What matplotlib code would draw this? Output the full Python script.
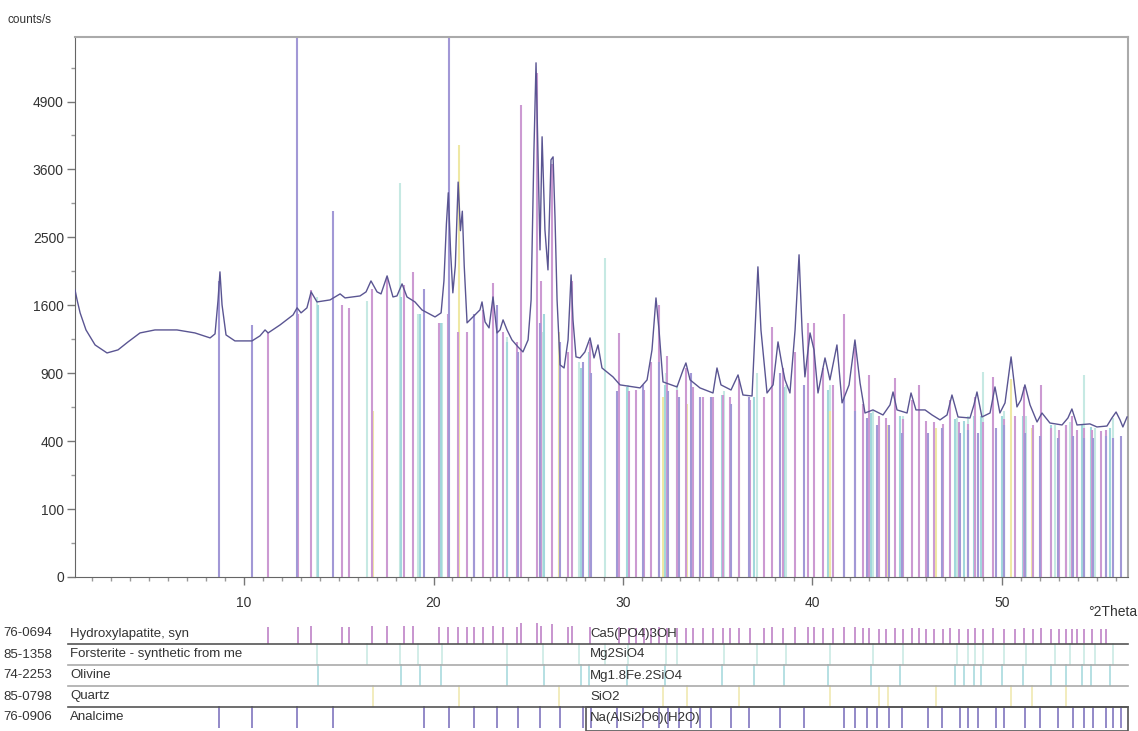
import numpy as np
import matplotlib
matplotlib.use("Agg")
import matplotlib.pyplot as plt
from matplotlib.patches import Rectangle
from matplotlib.ticker import FixedLocator, MultipleLocator, FuncFormatter

plt.rcParams['font.family'] = ['Liberation Sans', 'DejaVu Sans']

two_theta = [1.08, 1.19, 1.35, 1.66, 2.14, 2.77, 3.35, 3.88, 4.51, 5.30, 6.46, 7.41, 8.21, 8.47,
             8.63, 8.73, 8.84, 9.05, 9.52, 10.42, 10.84, 11.11, 11.27, 11.9, 12.59, 12.80, 13.01,
             13.32, 13.54, 13.85, 14.54, 15.07, 15.33, 16.12, 16.44, 16.70, 17.02, 17.23, 17.55,
             17.86, 18.07, 18.34, 18.60, 19.02, 19.39, 20.08, 20.40, 20.55, 20.68, 20.78, 20.90,
             21.02, 21.15, 21.30, 21.42, 21.52, 21.62, 21.77, 22.19, 22.45, 22.56, 22.72, 22.93,
             23.14, 23.35, 23.51, 23.67, 23.88, 24.14, 24.46, 24.72, 24.99, 25.15, 25.30, 25.41,
             25.51, 25.62, 25.73, 25.88, 26.04, 26.20, 26.31, 26.41, 26.52, 26.68, 26.89, 27.10,
             27.26, 27.36, 27.52, 27.73, 27.99, 28.26, 28.47, 28.68, 28.89, 29.47, 29.84, 30.90,
             31.27, 31.53, 31.74, 31.90, 32.11, 32.85, 33.17, 33.32, 33.54, 34.06, 34.75, 34.96,
             35.17, 35.70, 36.07, 36.33, 36.81, 36.97, 37.12, 37.28, 37.60, 37.92, 38.18, 38.39,
             38.55, 38.81, 39.08, 39.29, 39.45, 39.60, 39.87, 40.08, 40.29, 40.66, 40.92, 41.29,
             41.56, 41.93, 42.24, 42.51, 42.77, 43.19, 43.72, 44.09, 44.25, 44.46, 44.99, 45.20,
             45.46, 45.94, 46.31, 46.73, 47.10, 47.36, 47.68, 48.31, 48.52, 48.68, 48.94, 49.37,
             49.63, 49.89, 50.16, 50.48, 50.79, 51.00, 51.21, 51.48, 51.85, 52.11, 52.53, 53.17,
             53.48, 53.69, 53.96, 54.64, 55.01, 55.54, 55.80, 56.02, 56.23, 56.38, 56.60]
counts = [1787, 1664, 1512, 1323, 1167, 1088, 1118, 1198, 1291, 1323, 1323, 1291, 1239, 1281,
          1664, 2018, 1605, 1270, 1208, 1208, 1260, 1323, 1291, 1377, 1489, 1570, 1512,
          1570, 1762, 1640, 1664, 1737, 1688, 1712, 1762, 1900, 1762, 1737, 1965,
          1700, 1712, 1862, 1700, 1640, 1546, 1466, 1512, 1900, 2700, 3200, 2300,
          1750, 2100, 3380, 2600, 2900, 2100, 1400, 1489, 1546, 1640, 1410, 1345,
          1700, 1291, 1323, 1433, 1323, 1218, 1147, 1098, 1218, 1664, 3955, 5730,
          3955, 2319, 4200, 2612, 2044, 3772, 3826, 2811, 1664, 975, 947, 1218,
          1978, 1433, 1050, 1040, 1098, 1239, 1040, 1167, 947, 868, 800, 775,
          842, 1118, 1688, 1323, 825, 783, 929, 993, 842, 775, 734, 947,
          800, 758, 885, 718, 710, 1323, 2085, 1323, 734, 800, 1198, 975,
          842, 734, 1323, 2250, 1323, 868, 1291, 1118, 734, 1040, 842, 1167,
          657, 800, 1218, 816, 583, 605, 569, 642, 742, 605, 583, 734,
          605, 605, 569, 535, 569, 718, 555, 548, 642, 742, 555, 583,
          783, 583, 657, 1050, 627, 680, 800, 642, 521, 583, 514, 501,
          548, 612, 501, 508, 488, 494, 548, 590, 535, 488, 555]

# reference phases: code, name, formula, stick positions, stick intensities (counts/s)
codes = ["76-0694", "85-1358", "74-2253", "85-0798", "76-0906"]
names = ["Hydroxylapatite, syn", "Forsterite - synthetic from me", "Olivine", "Quartz", "Analcime"]
formulas = ["Ca5(PO4)3OH", "Mg2SiO4", "Mg1.8Fe.2SiO4", "SiO2", "Na(AlSi2O6)(H2O)"]

hap_pos = [11.25, 12.85, 13.54, 15.16, 15.54, 16.74, 17.53, 18.44, 18.9, 20.29, 20.77, 21.28,
           21.75, 22.14, 22.6, 23.14, 23.67, 24.39, 24.6, 25.45, 25.66, 26.25, 27.1, 27.31,
           28.26, 29.8, 30.3, 30.7, 31.1, 31.5, 31.9, 32.3, 32.85, 33.3, 33.7, 34.2, 34.75,
           35.3, 35.65, 36.1, 36.7, 37.45, 37.85, 38.45, 39.1, 39.75, 40.1, 40.55, 41.1,
           41.65, 42.25, 42.65, 43.0, 43.5, 43.9, 44.35, 44.8, 45.25, 45.6, 46.0, 46.4, 46.9,
           47.25, 47.75, 48.2, 48.6, 49.0, 49.55, 50.1, 50.7, 51.15, 51.65, 52.05, 52.6, 53.0,
           53.4, 53.7, 53.95, 54.35, 54.75, 55.2, 55.5]
hap_int = [1300, 1500, 1787, 1600, 1570, 1800, 1950, 1850, 2018, 1400, 1500, 1300,
           1300, 1400, 1550, 1870, 1300, 1200, 4830, 5500, 1900, 3700, 1100, 1900,
           1200, 1290, 750, 760, 760, 1000, 1600, 1060, 760, 950, 780, 700, 700,
           720, 700, 850, 680, 700, 1350, 950, 1100, 1400, 1400, 950, 800,
           1500, 1150, 650, 880, 560, 550, 860, 540, 680, 800, 530, 520, 510,
           680, 520, 510, 700, 520, 870, 540, 560, 780, 500, 800, 480, 470,
           500, 560, 470, 480, 470, 460, 470]

fo_pos = [13.85, 16.5, 18.23, 19.2, 20.45, 23.9, 25.8, 27.7, 29.05, 30.27, 32.27, 32.85, 35.33,
          37.07, 38.6, 40.92, 43.2, 44.78, 47.63, 48.2, 48.6, 49.0, 50.1, 51.27, 52.8, 53.6,
          54.33, 54.9, 55.86]
fo_int = [1700, 1650, 3370, 1500, 1400, 1250, 1300, 1000, 2200, 800, 900, 800, 750,
          900, 800, 800, 600, 560, 550, 560, 600, 910, 600, 560, 500, 520,
          885, 480, 550]

ol_pos = [13.9, 18.3, 19.3, 20.4, 23.9, 25.85, 27.76, 28.2, 30.2, 32.2, 35.2, 36.9, 38.5, 40.8,
          43.1, 44.6, 47.5, 48.0, 48.5, 48.9, 50.0, 51.1, 52.6, 53.4, 54.2, 54.7, 55.7]
ol_int = [1600, 1700, 1500, 1400, 1200, 1500, 950, 1100, 780, 800, 720, 700, 780, 760,
          580, 560, 540, 530, 560, 560, 560, 560, 500, 500, 500, 490, 480]

qz_pos = [16.8, 21.35, 26.6, 32.1, 33.4, 36.1, 40.9, 43.5, 44.0, 46.5, 50.5, 51.6, 53.4]
qz_int = [600, 4050, 1300, 700, 650, 650, 600, 520, 500, 480, 850, 480, 460]

an_pos = [8.68, 10.42, 12.8, 14.7, 19.5, 20.82, 22.14, 23.35, 24.46, 25.62, 26.68, 27.9, 28.29,
          29.68, 31.03, 31.9, 32.37, 32.96, 33.59, 34.07, 34.64, 35.7, 36.66, 38.3, 39.55,
          41.66, 42.23, 42.9, 43.38, 44.05, 44.72, 46.07, 46.83, 47.8, 48.18, 48.76, 49.71,
          50.08, 51.24, 52.03, 52.98, 53.75, 54.34, 54.82, 55.49, 55.88, 56.27]
an_int = [1900, 1380, 7000, 2900, 1800, 7000, 1500, 1600, 1100, 1400, 1200, 1000, 900,
          750, 800, 1000, 750, 700, 900, 700, 700, 650, 700, 900, 800,
          700, 600, 550, 500, 500, 450, 450, 480, 450, 470, 450, 480,
          500, 450, 430, 420, 430, 420, 420, 430, 420, 430]

phase_pos = [hap_pos, fo_pos, ol_pos, qz_pos, an_pos]
phase_int = [hap_int, fo_int, ol_int, qz_int, an_int]
phase_col = ['#cc9ad2', '#c6e9e3', '#a2d8dc', '#efe8a4', '#a298d6']
row_col = ['#c48ccc', '#cfece6', '#b0dde0', '#f1eab8', '#8a80c4']

W, H = 1138, 731
fig = plt.figure(figsize=(W / 100, H / 100), dpi=100)
ax = fig.add_axes([75 / W, 1 - 577 / H, 1053 / W, 540 / H])

ax.set_yscale('function', functions=(lambda v: np.sqrt(np.clip(v, 0, None)), lambda v: v ** 2))

# reference sticks behind the measured pattern
order = [1, 2, 3, 0, 4]
for i in order:
    ax.vlines(phase_pos[i], 0, phase_int[i], colors=phase_col[i], lw=1.5, zorder=2)

ax.plot(two_theta, counts, color='#5a5592', lw=1.0, zorder=5)

ax.set_xlim(1.08, 56.65)
ax.set_ylim(0, 6320)

ax.xaxis.set_major_locator(MultipleLocator(10))
ax.xaxis.set_minor_locator(MultipleLocator(1))
ax.yaxis.set_major_locator(FixedLocator([0, 100, 400, 900, 1600, 2500, 3600, 4900]))
ax.yaxis.set_minor_locator(FixedLocator([25, 225, 625, 1225, 2025, 3025, 4225, 5625]))
ax.yaxis.set_major_formatter(FuncFormatter(lambda v, p: f"{int(round(v))}"))
ax.yaxis.set_minor_formatter(FuncFormatter(lambda v, p: ""))

ax.tick_params(which='major', direction='out', length=6, width=1, color='#777777',
               labelcolor='#333333', labelsize=10)
ax.tick_params(which='minor', direction='out', length=3, width=1, color='#999999')
ax.tick_params(axis='x', pad=8)
ax.tick_params(axis='y', pad=2)
for side in ['left', 'bottom']:
    ax.spines[side].set_color('#666666')
for side in ['top', 'right']:
    ax.spines[side].set_color('#aaaaaa')
    ax.spines[side].set_linewidth(1.5)

fig.text(8 / W, 1 - 20 / H, "counts/s", fontsize=8.5, color='#333333', va='center', ha='left')
fig.text(1 - 1 / W, 1 - 612 / H, "°2Theta", fontsize=10, color='#333333', va='center', ha='right')

# phase rows below the pattern
row_h = 21
top_px = 623
ax2 = fig.add_axes([75 / W, 0, 1053 / W, (H - top_px) / H])
nrows = (H - top_px) / row_h
ax2.set_xlim(1.08, 56.65)
ax2.set_ylim(nrows, 0)
ax2.axis('off')
tr = ax2.get_yaxis_transform()

for i in range(5):
    pos = np.array(phase_pos[i])
    inten = np.array(phase_int[i], dtype=float)
    if i == 0:
        rel = 0.55 + 0.45 * np.sqrt(inten / inten.max())
    else:
        rel = np.ones_like(inten)
    base = i + 1
    ax2.vlines(pos, base, base - 1.05 * rel, colors=row_col[i], lw=1.3, zorder=2)
    ax2.text(-72 / 1053, i + 0.5, codes[i], transform=tr, fontsize=9.5, color='#333333',
             va='center', ha='left')
    ax2.text(-5 / 1053, i + 0.5, names[i], transform=tr, fontsize=9.5, color='#333333',
             va='center', ha='left')
    ax2.text(515 / 1053, i + 0.5, formulas[i], transform=tr, fontsize=9.5, color='#333333',
             va='center', ha='left', zorder=4)
    if i < 4:
        lc = '#555555' if i in (0, 3) else '#aaaaaa'
        ax2.plot([-7 / 1053, 1], [base, base], transform=tr, color=lc, lw=1.2,
                 clip_on=False, zorder=3)

ax2.add_patch(Rectangle((515 / 1053 - 0.004, 4), 1 - 515 / 1053 + 0.004, nrows - 4,
                        transform=tr, fill=False, ec='#555555', lw=1.2, clip_on=False, zorder=3))

fig.savefig("out.png", dpi=100)
